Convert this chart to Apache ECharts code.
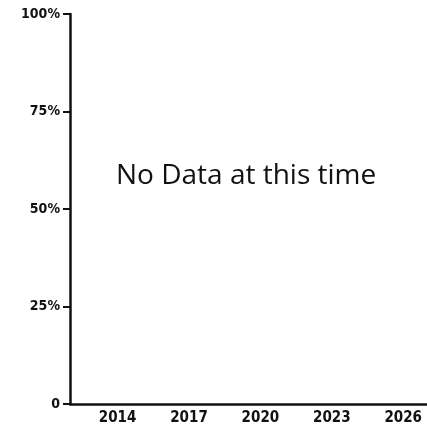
<!DOCTYPE html>
<html>
<head>
<meta charset="utf-8">
<script src="https://cdn.jsdelivr.net/npm/echarts@6/dist/echarts.min.js"></script>
<style>
html,body{margin:0;padding:0;background:#fff;}
#chart{width:427px;height:430px;}
</style>
</head>
<body>
<div id="chart"></div>
<script>
// Data (none available for this chart)
var years = [];
var values = [];
var xTickYears = [2014, 2017, 2020, 2023, 2026];
var yTickValues = [0, 25, 50, 75, 100];
var yTickLabels = ['0', '25%', '50%', '75%', '100%'];
var noDataText = 'No Data at this time';

var labelFont = '"Liberation Sans Narrow", "DejaVu Sans Condensed", sans-serif';

var chart = echarts.init(document.getElementById('chart'), null, {renderer: 'canvas'});
var seriesData = years.map(function (y, i) { return [y, values[i]]; });

chart.setOption({
  animation: false,
  backgroundColor: '#ffffff',
  grid: {left: 70, right: 0, top: 14, bottom: 26, containLabel: false},
  xAxis: {
    type: 'value',
    min: 2012,
    max: 2027,
    interval: 1,
    axisLine: {show: true, lineStyle: {color: '#111', width: 2.5}},
    axisTick: {show: false},
    splitLine: {show: false},
    axisLabel: {
      customValues: xTickYears,
      color: '#111',
      fontFamily: labelFont,
      fontWeight: 'bold',
      fontSize: 15,
      margin: 7,
      formatter: function (v) { return String(v); }
    }
  },
  yAxis: {
    type: 'value',
    min: 0,
    max: 100,
    interval: 25,
    axisLine: {show: true, lineStyle: {color: '#111', width: 2.5}},
    axisTick: {show: true, inside: false, length: 7, lineStyle: {color: '#111', width: 2}},
    splitLine: {show: false},
    axisLabel: {
      color: '#111',
      fontFamily: labelFont,
      fontWeight: 'bold',
      fontSize: 14,
      margin: 10,
      formatter: function (v) {
        var i = yTickValues.indexOf(v);
        return i >= 0 ? yTickLabels[i] : '';
      }
    }
  },
  series: [{
    type: 'line',
    data: seriesData,
    showSymbol: false
  }],
  graphic: [{
    type: 'text',
    left: 116,
    top: 162,
    style: {
      text: noDataText,
      fill: '#111',
      font: '28px "Open Sans", "Noto Sans", sans-serif'
    }
  }]
});
</script>
</body>
</html>
